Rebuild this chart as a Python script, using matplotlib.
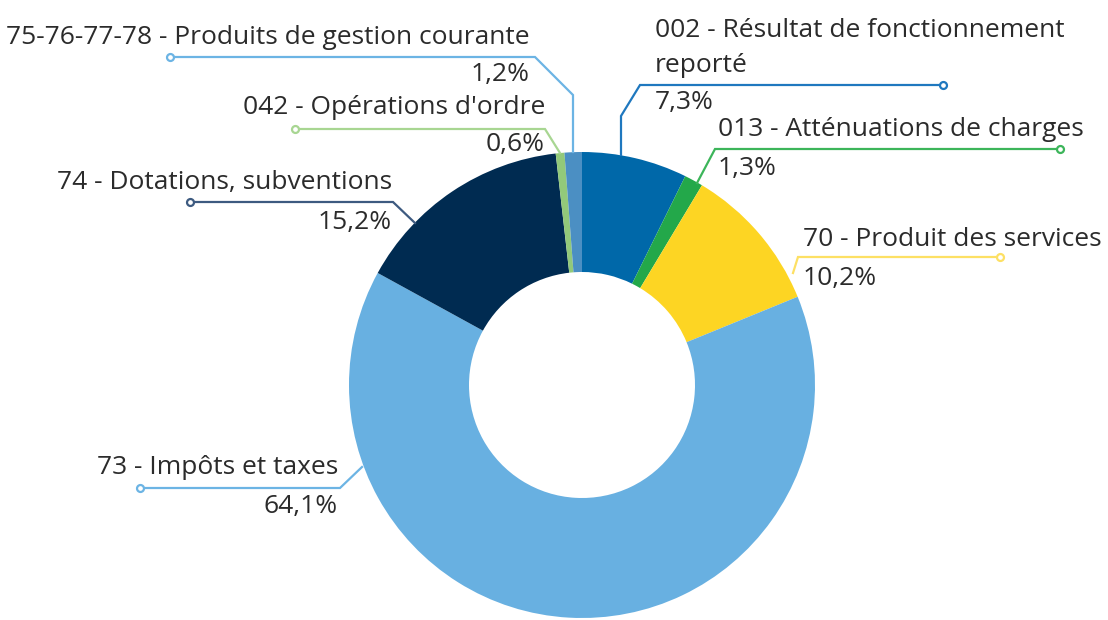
import matplotlib
matplotlib.use("Agg")
import matplotlib.pyplot as plt
import numpy as np

plt.rcParams['font.family'] = ['Open Sans', 'DejaVu Sans']

# data (clockwise from 12 o'clock)
categories = ["002 - Résultat de fonctionnement\nreporté",
              "013 - Atténuations de charges",
              "70 - Produit des services",
              "73 - Impôts et taxes",
              "74 - Dotations, subventions",
              "042 - Opérations d'ordre",
              "75-76-77-78 - Produits de gestion courante"]
values = [7.3, 1.3, 10.2, 64.1, 15.2, 0.6, 1.2]
colors = ["#0068a9", "#23a84a", "#fdd523", "#68b0e1", "#002b51", "#92c97a", "#4b8fc3"]
line_colors = ["#1f78bf", "#3cb55a", "#fde064", "#6cb4e4", "#3d5a80", "#a8d692", "#6cb4e4"]

W, H = 1108, 620
CX, CY, R, R_IN = 582, 385, 233, 113

# leader layout in pixel coords (from top-left): polyline points, text anchor x, side
leaders = [
    ([(621, 155), (621, 116), (640, 85), (943, 85)], 655, 'left', 48, 103),
    ([(697, 183), (715, 149), (1060, 149)], 718, 'left', 130, 168),
    ([(793, 273), (798, 257), (1000, 257)], 803, 'left', 240, 278),
    ([(362, 467), (340, 488), (140, 488)], 338, 'right', 467, 507),
    ([(415, 223), (393, 202), (190, 202)], 392, 'right', 183, 222),
    ([(560, 153), (545, 129), (295, 129)], 545, 'right', 107, 145),
    ([(573, 152), (573, 95), (535, 57), (170, 57)], 530, 'right', 37, 75),
]

fig = plt.figure(figsize=(W / 100, H / 100), dpi=100)
ax = fig.add_axes([0, 0, 1, 1])

ax.pie(values, colors=colors, startangle=90, counterclock=False,
       center=(CX, H - CY), radius=R,
       wedgeprops=dict(width=R - R_IN, linewidth=0))

for (pts, tx, side, ty, py), cat, v, lc in zip(leaders, categories, values, line_colors):
    xs = [p[0] for p in pts]
    ys = [H - p[1] for p in pts]
    ax.plot(xs, ys, color=lc, lw=1.6, solid_joinstyle='miter', zorder=3)
    ax.plot(xs[-1], ys[-1], 'o', ms=5, mfc='white', mec=lc, mew=1.6, zorder=4)
    pct = f"{v:.1f}".replace('.', ',') + '%'
    ax.text(tx, H - ty, cat, ha=side, va='center', fontsize=19, color='#2b2b2b',
            linespacing=1.55)
    ax.text(tx, H - py, pct, ha=side, va='center', fontsize=19, color='#2b2b2b')

ax.set_xlim(0, W)
ax.set_ylim(0, H)
ax.set_aspect('equal')
ax.axis('off')

fig.savefig("out.png", dpi=100)
